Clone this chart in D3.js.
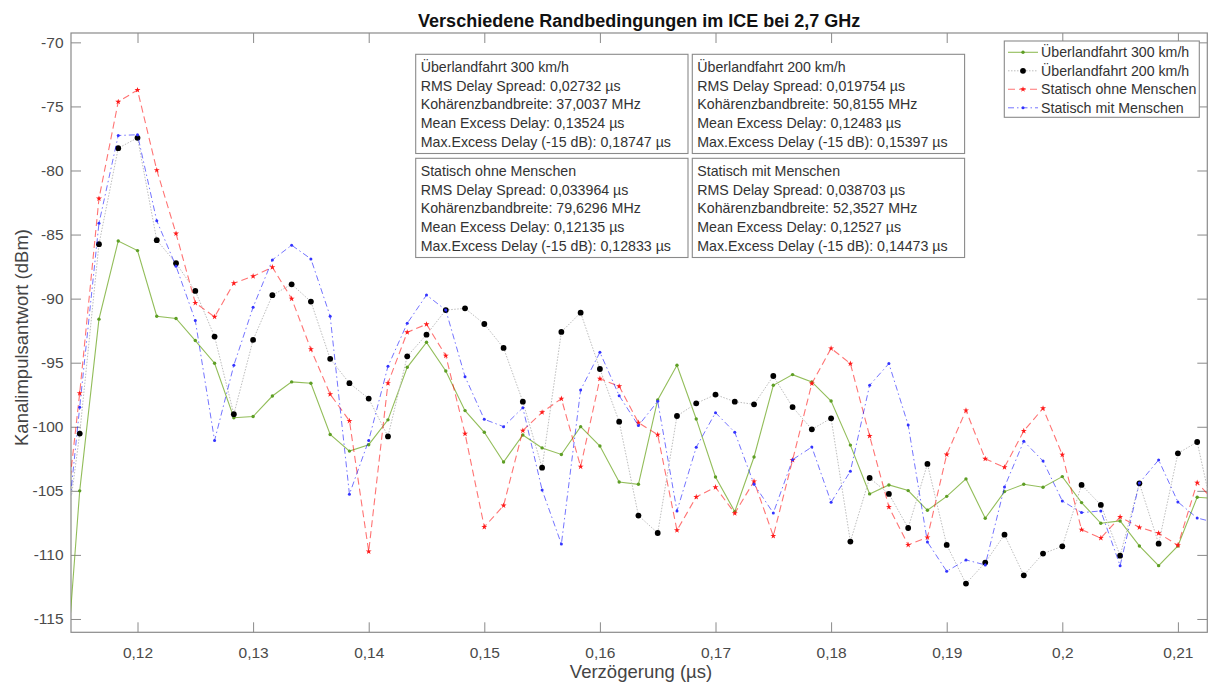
<!DOCTYPE html>
<html>
<head>
<meta charset="utf-8">
<script src="https://cdn.jsdelivr.net/npm/d3@7"></script>
<style>
  html, body { margin: 0; padding: 0; background: #fff; }
  svg { display: block; font-family: "Liberation Sans", Arial, Helvetica, sans-serif; }
</style>
</head>
<body>
<svg id="chart" width="1208" height="682"></svg>
<script>
// ---------- data ----------
const delays = [
  0.113333, 0.115, 0.116667, 0.118333, 0.12, 0.121667, 0.123333, 0.125, 0.126667, 0.128333,
  0.13, 0.131667, 0.133333, 0.135, 0.136667, 0.138333, 0.14, 0.141667, 0.143333, 0.145,
  0.146667, 0.148333, 0.15, 0.151667, 0.153333, 0.155, 0.156667, 0.158333, 0.16, 0.161667,
  0.163333, 0.165, 0.166667, 0.168333, 0.17, 0.171667, 0.173333, 0.175, 0.176667, 0.178333,
  0.18, 0.181667, 0.183333, 0.185, 0.186667, 0.188333, 0.19, 0.191667, 0.193333, 0.195,
  0.196667, 0.198333, 0.2, 0.201667, 0.203333, 0.205, 0.206667, 0.208333, 0.21, 0.211667,
  0.213333
];

const ueberland300 = [
  -125.0, -105.0, -91.6, -85.5, -86.25, -91.37, -91.55, -93.27, -95.04, -99.3,
  -99.2, -97.6, -96.5, -96.6, -100.6, -101.9, -101.4, -99.46, -95.36, -93.41,
  -95.65, -98.74, -100.43, -102.75, -100.64, -101.65, -102.16, -99.99, -101.5, -104.31,
  -104.49, -97.91, -95.2, -99.39, -103.92, -106.62, -102.36, -96.76, -95.93, -96.5,
  -97.99, -101.43, -105.24, -104.54, -104.98, -106.52, -105.43, -104.07, -107.14, -105.06,
  -104.49, -104.72, -103.89, -105.92, -107.53, -107.35, -109.3, -110.84, -109.3, -105.5,
  -105.6
];

const ueberland200 = [
  -112.0, -100.53, -85.75, -78.26, -77.45, -85.44, -87.24, -89.4, -92.96, -99.02,
  -93.22, -89.73, -88.88, -90.23, -94.7, -96.6, -97.8, -100.75, -94.5, -92.81,
  -90.89, -90.76, -91.98, -93.85, -98.04, -103.19, -92.6, -91.1, -95.49, -99.6,
  -106.93, -108.29, -99.16, -98.17, -97.49, -98.04, -98.25, -96.04, -98.46, -100.2,
  -99.34, -108.96, -104.0, -105.24, -107.9, -102.9, -109.22, -112.24, -110.6, -108.42,
  -111.59, -109.9, -109.33, -104.54, -106.1, -110.06, -104.41, -109.12, -102.07, -101.19,
  -108.0
];

const statischOhne = [
  -110.8, -97.38, -82.19, -74.64, -73.72, -79.97, -84.92, -90.33, -91.42, -88.8,
  -88.25, -87.55, -90.0, -93.95, -97.46, -99.54, -109.73, -96.6, -92.63, -92.0,
  -94.45, -100.54, -107.82, -106.15, -100.3, -98.87, -97.81, -103.11, -96.25, -96.84,
  -99.68, -100.62, -108.08, -105.48, -104.72, -106.75, -104.26, -108.52, -102.6, -96.63,
  -93.88, -95.07, -100.72, -106.26, -109.22, -108.63, -102.17, -98.72, -102.5, -103.16,
  -100.33, -98.56, -102.18, -108.03, -108.68, -107.04, -107.85, -108.31, -109.25, -104.36,
  -106.0
];

const statischMit = [
  -113.0, -98.47, -84.12, -77.27, -77.21, -83.93, -87.47, -91.71, -101.07, -95.2,
  -90.67, -86.98, -85.83, -86.9, -91.37, -105.26, -101.07, -95.28, -91.93, -89.72,
  -90.89, -96.09, -99.42, -99.99, -98.51, -104.93, -109.15, -97.13, -94.19, -97.57,
  -99.91, -98.01, -106.57, -101.6, -98.9, -100.43, -104.49, -106.73, -102.57, -101.58,
  -105.89, -103.47, -96.76, -95.07, -99.86, -108.99, -111.28, -110.39, -110.78, -104.7,
  -101.13, -102.67, -105.79, -106.7, -106.57, -110.84, -104.39, -102.59, -105.87, -107.12,
  -107.5
];

const seriesNames = ["Überlandfahrt 300 km/h", "Überlandfahrt 200 km/h", "Statisch ohne Menschen", "Statisch mit Menschen"];

const xTickValues = [0.12, 0.13, 0.14, 0.15, 0.16, 0.17, 0.18, 0.19, 0.2, 0.21];
const yTickValues = [-70, -75, -80, -85, -90, -95, -100, -105, -110, -115];

const infoBox1 = ["Überlandfahrt 300 km/h", "RMS Delay Spread: 0,02732 µs", "Kohärenzbandbreite: 37,0037 MHz", "Mean Excess Delay: 0,13524 µs", "Max.Excess Delay (-15 dB): 0,18747 µs"];
const infoBox2 = ["Überlandfahrt 200 km/h", "RMS Delay Spread: 0,019754 µs", "Kohärenzbandbreite: 50,8155 MHz", "Mean Excess Delay: 0,12483 µs", "Max.Excess Delay (-15 dB): 0,15397 µs"];
const infoBox3 = ["Statisch ohne Menschen", "RMS Delay Spread: 0,033964 µs", "Kohärenzbandbreite: 79,6296 MHz", "Mean Excess Delay: 0,12135 µs", "Max.Excess Delay (-15 dB): 0,12833 µs"];
const infoBox4 = ["Statisch mit Menschen", "RMS Delay Spread: 0,038703 µs", "Kohärenzbandbreite: 52,3527 MHz", "Mean Excess Delay: 0,12527 µs", "Max.Excess Delay (-15 dB): 0,14473 µs"];

const titleText = "Verschiedene Randbedingungen im ICE bei 2,7 GHz";
const xLabelText = "Verzögerung (µs)";
const yLabelText = "Kanalimpulsantwort (dBm)";

// ---------- layout ----------
const plot = { left: 71, top: 33, right: 1207.3, bottom: 632.3 };
const axisColor = "#8a8a8a";
const textColor = "#333333";

const svg = d3.select("#chart");

const x = d3.scaleLinear().domain([0.114247, 0.212543]).range([plot.left, plot.right]);
const y = d3.scaleLinear().domain([-116.04, -69.27]).range([plot.bottom, plot.top]);

const fmtX = v => String(+v.toFixed(2)).replace(".", ",");
const fmtY = v => String(v);

svg.append("defs").append("clipPath").attr("id", "plotclip")
  .append("rect").attr("x", plot.left).attr("y", plot.top)
  .attr("width", plot.right - plot.left).attr("height", plot.bottom - plot.top);

// ---------- axes ----------
const gx = svg.append("g").attr("transform", `translate(0,${plot.bottom})`)
  .call(d3.axisBottom(x).tickValues(xTickValues).tickFormat(fmtX).tickSizeInner(-10).tickSizeOuter(0).tickPadding(15));
const gxt = svg.append("g").attr("transform", `translate(0,${plot.top})`)
  .call(d3.axisTop(x).tickValues(xTickValues).tickFormat("").tickSizeInner(-10).tickSizeOuter(0));
const gy = svg.append("g").attr("transform", `translate(${plot.left},0)`)
  .call(d3.axisLeft(y).tickValues(yTickValues).tickFormat(fmtY).tickSizeInner(-10).tickSizeOuter(0).tickPadding(7.5));
const gyr = svg.append("g").attr("transform", `translate(${plot.right},0)`)
  .call(d3.axisRight(y).tickValues(yTickValues).tickFormat("").tickSizeInner(-10).tickSizeOuter(0));

[gx, gxt, gy, gyr].forEach(g => {
  g.select(".domain").remove();
  g.selectAll(".tick line").attr("stroke", axisColor).attr("stroke-width", 1);
  g.selectAll(".tick text").attr("fill", "#4a4a4a").attr("font-size", 15.5)
    .attr("font-family", '"Liberation Sans", Arial, Helvetica, sans-serif');
});

svg.append("rect").attr("x", plot.left).attr("y", plot.top)
  .attr("width", plot.right - plot.left).attr("height", plot.bottom - plot.top)
  .attr("fill", "none").attr("stroke", axisColor).attr("stroke-width", 1.2);

// ---------- series ----------
const series = [
  { name: seriesNames[0], values: ueberland300, stroke: "#77ac30", width: 1.1, dash: null, marker: "dot", mcolor: "#5e9e25", msize: 1.7, lineOpacity: 0.8 },
  { name: seriesNames[1], values: ueberland200, stroke: "#bdbdbd", width: 1.0, dash: "1.5,1.5", marker: "dot", mcolor: "#000000", msize: 2.9, lineOpacity: 1 },
  { name: seriesNames[2], values: statischOhne, stroke: "#ff0000", width: 1.1, dash: "7,4", marker: "star", mcolor: "#ff1a1a", msize: 11, lineOpacity: 0.55 },
  { name: seriesNames[3], values: statischMit, stroke: "#0000ff", width: 1.0, dash: "6,3,1.5,3", marker: "dot", mcolor: "#3333ff", msize: 1.5, lineOpacity: 0.55 }
];

const line = d3.line().x(d => x(d[0])).y(d => y(d[1]));
const gData = svg.append("g").attr("clip-path", "url(#plotclip)");

series.forEach(s => {
  const pts = delays.map((d, i) => [d, s.values[i]]);
  gData.append("path").datum(pts)
    .attr("d", line).attr("fill", "none")
    .attr("stroke", s.stroke).attr("stroke-width", s.width)
    .attr("stroke-opacity", s.lineOpacity)
    .attr("stroke-dasharray", s.dash);
  const g = gData.append("g");
  if (s.marker === "star") {
    g.selectAll("path").data(pts).join("path")
      .attr("transform", d => `translate(${x(d[0])},${y(d[1])})`)
      .attr("d", d3.symbol().type(d3.symbolStar).size(s.msize)())
      .attr("fill", s.mcolor);
  } else {
    g.selectAll("circle").data(pts).join("circle")
      .attr("cx", d => x(d[0])).attr("cy", d => y(d[1]))
      .attr("r", s.msize).attr("fill", s.mcolor);
  }
});

// ---------- info boxes ----------
const boxes = [
  { lines: infoBox1, x0: 415.7, y0: 54.3 },
  { lines: infoBox2, x0: 692.3, y0: 54.3 },
  { lines: infoBox3, x0: 415.7, y0: 158.3 },
  { lines: infoBox4, x0: 692.3, y0: 158.3 }
];
const boxW = 272.3, boxH = 99.2;
boxes.forEach(b => {
  const g = svg.append("g");
  g.append("rect").attr("x", b.x0).attr("y", b.y0).attr("width", boxW).attr("height", boxH)
    .attr("fill", "#fff").attr("stroke", "#8a8a8a").attr("stroke-width", 1.1);
  g.selectAll("text").data(b.lines).join("text")
    .attr("x", b.x0 + 5)
    .attr("y", (d, i) => b.y0 + 13 + i * 18.6)
    .attr("dy", "0.35em")
    .attr("font-size", 14.2).attr("fill", textColor)
    .text(d => d);
});

// ---------- legend ----------
const leg = { x0: 1004.3, y0: 41, w: 195, h: 76.3 };
const lg = svg.append("g");
lg.append("rect").attr("x", leg.x0).attr("y", leg.y0).attr("width", leg.w).attr("height", leg.h)
  .attr("fill", "#fff").attr("stroke", "#8a8a8a").attr("stroke-width", 1.1);
series.forEach((s, i) => {
  const cy = 52.3 + i * 18.5;
  lg.append("line").attr("x1", 1008).attr("x2", 1038).attr("y1", cy).attr("y2", cy)
    .attr("stroke", s.stroke).attr("stroke-width", s.width)
    .attr("stroke-opacity", s.lineOpacity)
    .attr("stroke-dasharray", s.dash);
  if (s.marker === "star") {
    lg.append("path").attr("transform", `translate(1023,${cy})`)
      .attr("d", d3.symbol().type(d3.symbolStar).size(s.msize)()).attr("fill", s.mcolor);
  } else {
    lg.append("circle").attr("cx", 1023).attr("cy", cy).attr("r", s.msize).attr("fill", s.mcolor);
  }
  lg.append("text").attr("x", 1041).attr("y", cy).attr("dy", "0.35em")
    .attr("font-size", 14.2).attr("fill", textColor).text(s.name);
});

// ---------- titles ----------
svg.append("text").attr("x", (plot.left + plot.right) / 2).attr("y", 26.5)
  .attr("text-anchor", "middle").attr("font-size", 18).attr("font-weight", "bold")
  .attr("fill", "#111").text(titleText);

svg.append("text").attr("x", 641).attr("y", 678)
  .attr("text-anchor", "middle").attr("font-size", 18.5).attr("fill", "#444").text(xLabelText);

svg.append("text").attr("transform", `translate(28,337.5) rotate(-90)`)
  .attr("text-anchor", "middle").attr("font-size", 18.5).attr("fill", "#444").text(yLabelText);
</script>
</body>
</html>
